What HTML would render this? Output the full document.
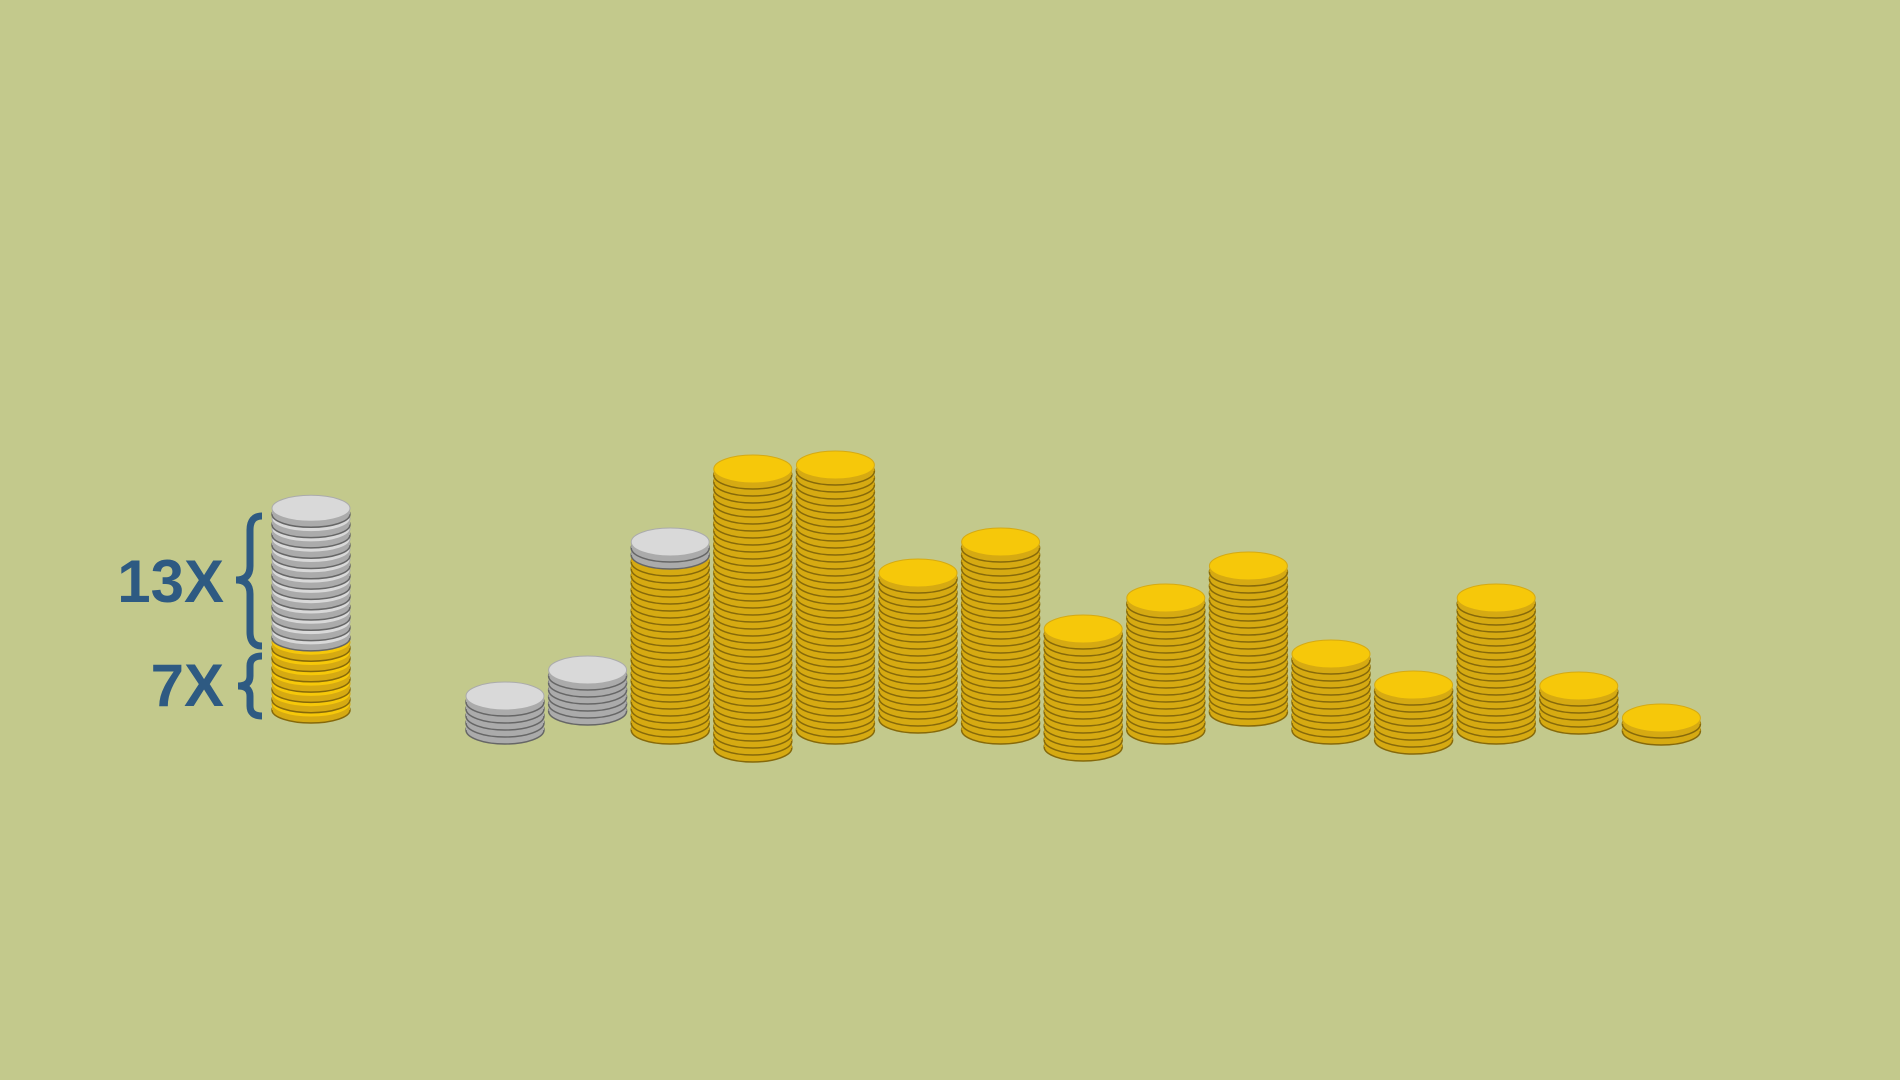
<!DOCTYPE html>
<html><head><meta charset="utf-8"><style>
html,body{margin:0;padding:0;width:1900px;height:1080px;overflow:hidden;background:#c3c98c;}
svg{display:block}
</style></head><body>
<svg id="chart" width="1900" height="1080" viewBox="0 0 1900 1080">
<rect x="0" y="0" width="1900" height="1080" fill="#c3c98c"/>
<rect x="110" y="70" width="260" height="250" fill="#c6c688" opacity="0.5"/>
<g id="legend">
<text x="224" y="602" text-anchor="end" font-family="Liberation Sans, sans-serif" font-weight="bold" font-size="60" fill="#2e5a82">13X</text>
<text x="224" y="706" text-anchor="end" font-family="Liberation Sans, sans-serif" font-weight="bold" font-size="60" fill="#2e5a82">7X</text>
<path d="M262 516 q-12 0 -12 14 v36 q0 14 -14 14 q14 0 14 14 v38 q0 14 12 14" fill="none" stroke="#2e5a82" stroke-width="7"/>
<path d="M262 656 q-12 0 -12 10 v10 q0 10 -12 10 q12 0 12 10 v10 q0 10 12 10" fill="none" stroke="#2e5a82" stroke-width="7"/>
</g>
<g id="stacks"></g>
</svg>
<script>
const categories = ["s1","s2","s3","s4","s5","s6","s7","s8","s9","s10","s11","s12","s13","s14","s15"];
const goldCoins = [0,0,25,40,38,21,27,17,19,21,11,8,19,5,2];
const silverCoins = [5,6,2,0,0,0,0,0,0,0,0,0,0,0,0];
const legendGold = 7;
const legendSilver = 13;
// layout (not data): small vertical jitter of each stack's base
const baseJitter = [0,-19,0,18,0,-11,0,17,0,-18,0,10,0,-10,1];

const NS="http://www.w3.org/2000/svg";
const COL={gold:{face:"#f6c80a",edge:"#d6aa12",line:"#86690a"},silver:{face:"#d9d9d9",edge:"#ababab",line:"#666"}};
function coin(g,cx,cy,rx,ry,th,kind){
  const c=COL[kind];
  const e1=document.createElementNS(NS,"ellipse");
  e1.setAttribute("cx",cx);e1.setAttribute("cy",cy+th);e1.setAttribute("rx",rx);e1.setAttribute("ry",ry);
  e1.setAttribute("fill",c.edge);e1.setAttribute("stroke",c.line);e1.setAttribute("stroke-width","1.5");
  
  
  g.appendChild(e1);
  const r=document.createElementNS(NS,"rect");
  r.setAttribute("x",cx-rx);r.setAttribute("y",cy);r.setAttribute("width",rx*2);r.setAttribute("height",th);r.setAttribute("fill",c.edge);
  
  
  g.appendChild(r);
  const e2=document.createElementNS(NS,"ellipse");
  e2.setAttribute("cx",cx);e2.setAttribute("cy",cy);e2.setAttribute("rx",rx);e2.setAttribute("ry",ry);
  e2.setAttribute("fill",c.face);e2.setAttribute("stroke",c.edge);e2.setAttribute("stroke-width","1");
  
  
  g.appendChild(e2);
}
const x0=505, step=82.6, baseY=744, pitch=7, rx=39, ry=14;
function xPos(i){return x0+i*step;}
function yCoin(base,k){return base-ry-6-k*pitch;}
const root=document.getElementById("stacks");
categories.forEach((cat,i)=>{
  const g=document.createElementNS(NS,"g");
  
  
  const base=baseY+baseJitter[i];
  let k=0;
  for(let j=0;j<goldCoins[i];j++,k++) coin(g,xPos(i),yCoin(base,k),rx,ry,6,"gold");
  for(let j=0;j<silverCoins[i];j++,k++) coin(g,xPos(i),yCoin(base,k),rx,ry,6,"silver");
  root.appendChild(g);
});
// legend stack
const lg=document.getElementById("legend");
const lgs=document.createElementNS(NS,"g");


let k=0;
for(let j=0;j<legendGold;j++,k++) coin(lgs,311,704-k*10.3,39,13,6,"gold");
for(let j=0;j<legendSilver;j++,k++) coin(lgs,311,704-k*10.3,39,13,6,"silver");
lg.appendChild(lgs);
</script>
</body></html>
